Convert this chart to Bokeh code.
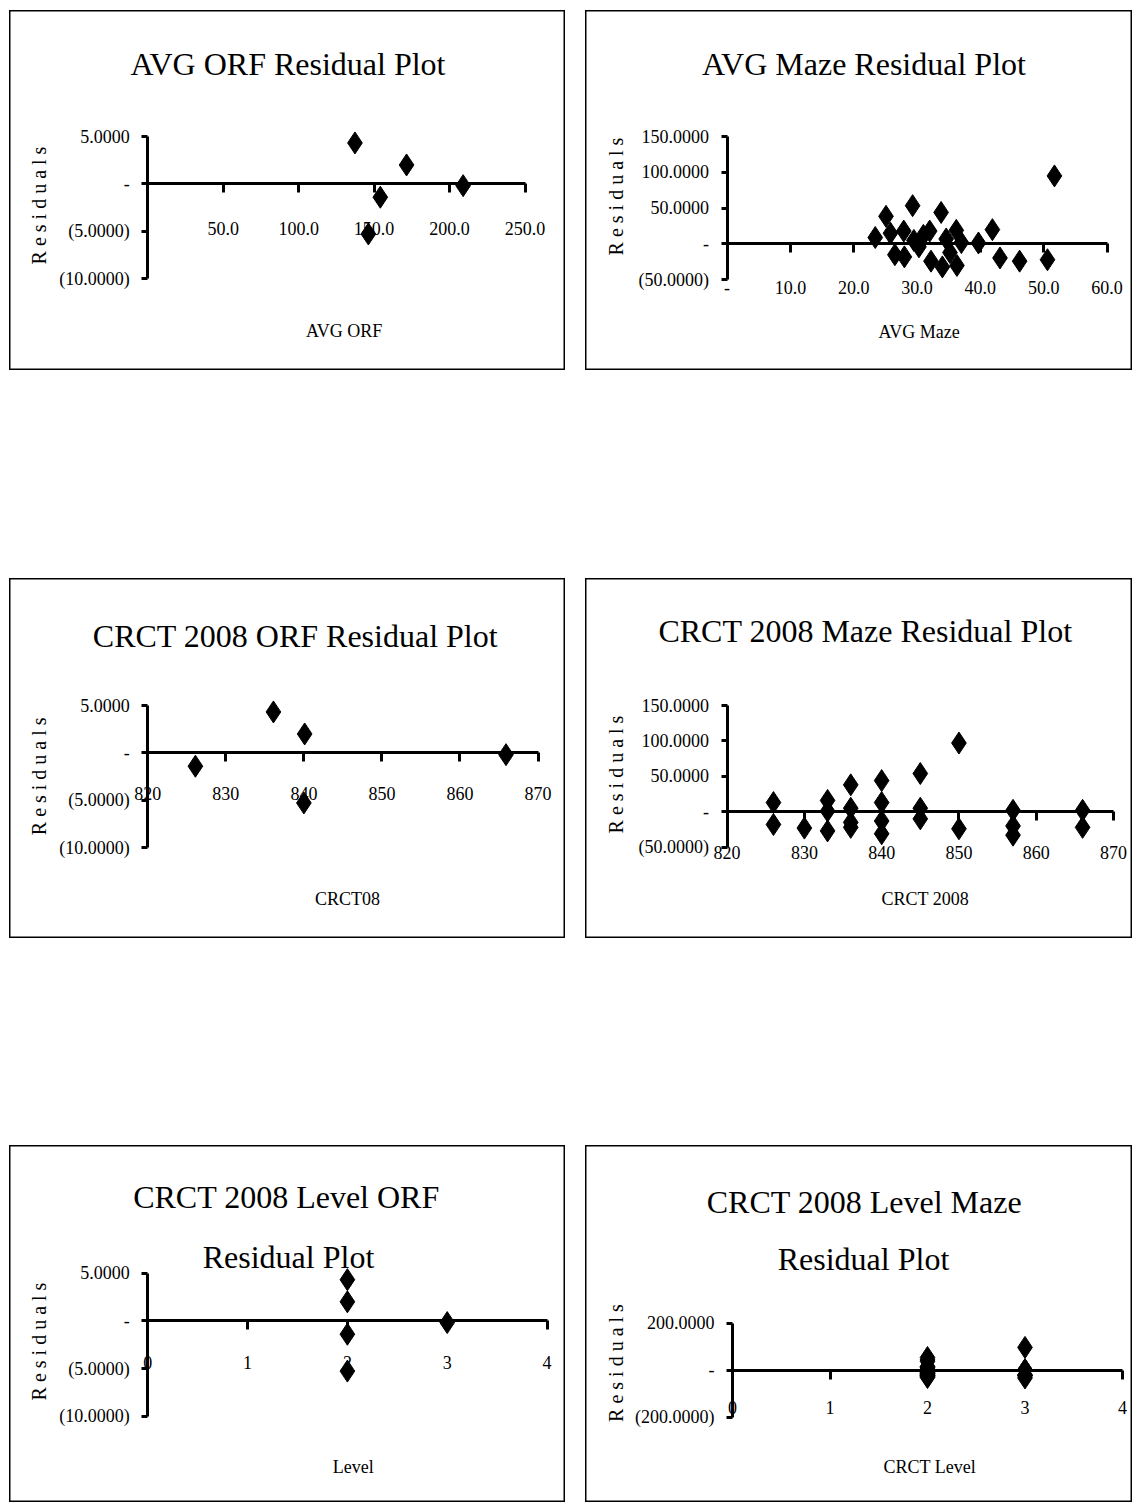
from math import pi
from bokeh.plotting import figure
from bokeh.models import Range1d, LinearAxis, FixedTicker, Label, Spacer
from bokeh.layouts import column, row
from bokeh.embed import file_html
from bokeh.resources import INLINE

# ---------------- data ----------------
# ORF residuals (5 students)
orf_avg = [137.3, 146.2, 154.1, 171.5, 209.0]
orf_avg_resid = [4.32, -5.27, -1.40, 2.00, -0.18]
orf_crct = [836.1, 840.0, 826.1, 840.1, 865.9]
orf_crct_resid = [4.32, -5.27, -1.40, 2.00, -0.18]
orf_level = [2, 2, 2, 2, 3]
orf_level_resid = [4.32, -5.27, -1.40, 2.00, -0.18]

# Maze residuals
maze_avg = [23.4, 25.1, 25.8, 26.5, 27.9, 28.0, 29.3, 29.5, 30.3, 31.0, 32.0, 32.2, 33.8,
            34.0, 34.6, 35.2, 36.2, 36.3, 37.0, 39.7, 41.9, 43.1, 46.2, 50.6, 51.7]
maze_avg_resid = [9, 38.6, 15, -15, 18, -18, 53.5, 5, -4, 12, 18, -24, 44,
                  -32, 7, -12, 19, -30, 2, 1.4, 20, -19.5, -24, -22, 95]
maze_crct = [826, 826, 830, 833, 833, 833, 836, 836, 836, 836, 840, 840, 840, 840,
             845, 845, 845, 850, 850, 857, 857, 857, 866, 866]
maze_crct_resid = [13, -18, -23, 16, 1, -27, 38, 5, -15, -22, 44, 13, -13, -31,
                   54, 5, -10, 97, -24, 2, -20, -33, 2, -22]
maze_level = [2, 2, 2, 2, 2, 2, 2, 2, 2, 2, 2, 2, 2, 2, 2, 2, 2, 3, 3, 3, 3, 3, 3, 3]
maze_level_resid = [13, -18, -23, 16, 1, -27, 38, 5, -15, -22, 44, 13, -13, -31,
                    54, 5, -10, 97, -24, 2, -20, -33, 2, -22]

# ticks / tick labels
orf_y_ticks = [-10, -5, 0, 5]
orf_y_labels = ["(10.0000)", "(5.0000)", "-", "5.0000"]
maze_y_ticks = [-50, 0, 50, 100, 150]
maze_y_labels = ["(50.0000)", "-", "50.0000", "100.0000", "150.0000"]
lvl_maze_y_ticks = [-200, 0, 200]
lvl_maze_y_labels = ["(200.0000)", "-", "200.0000"]
avg_orf_x_ticks = [50, 100, 150, 200, 250]
avg_orf_x_labels = ["50.0", "100.0", "150.0", "200.0", "250.0"]
avg_maze_x_ticks = [0, 10, 20, 30, 40, 50, 60]
avg_maze_x_labels = ["-", "10.0", "20.0", "30.0", "40.0", "50.0", "60.0"]
crct_x_ticks = [820, 830, 840, 850, 860, 870]
crct_x_labels = ["820", "830", "840", "850", "860", "870"]
level_x_ticks = [0, 1, 2, 3, 4]
level_x_labels = ["0", "1", "2", "3", "4"]

FONT = "Liberation Serif"


def make_panel(W, H, xcal, ycal, xticks, xlabels, xbounds, yticks, ylabels, ybounds,
               xs, ys, titles, xtitle, xtitle_pos, ylabel_pos, xstandoff):
    (xv0, xp0), (xv1, xp1) = xcal
    kx = (xv1 - xv0) / (xp1 - xp0)
    x_start = xv0 - xp0 * kx
    x_end = xv0 + (W - xp0) * kx
    (yv0, yp0), (yv1, yp1) = ycal
    ky = (yv1 - yv0) / (yp1 - yp0)
    y_top = yv0 - yp0 * ky
    y_bot = yv0 + (H - yp0) * ky
    p = figure(width=W, height=H, x_range=Range1d(x_start, x_end),
               y_range=Range1d(y_bot, y_top), output_backend="svg",
               toolbar_location=None, min_border=0, x_axis_type=None,
               y_axis_type=None)
    p.outline_line_color = "black"
    p.outline_line_width = 2
    p.background_fill_color = "white"
    p.border_fill_color = "white"

    xa = LinearAxis(fixed_location=0, bounds=xbounds,
                    ticker=FixedTicker(ticks=xticks),
                    major_label_overrides=dict(zip(xticks, xlabels)))
    ya = LinearAxis(fixed_location=xbounds[0], bounds=ybounds,
                    ticker=FixedTicker(ticks=yticks),
                    major_label_overrides=dict(zip(yticks, ylabels)))
    for ax in (xa, ya):
        ax.axis_line_width = 3
        ax.axis_line_color = "black"
        ax.major_tick_line_width = 3
        ax.major_tick_line_color = "black"
        ax.minor_tick_line_color = None
        ax.major_tick_in = 0
        ax.major_label_text_font = FONT
        ax.major_label_text_font_size = "18px"
        ax.major_label_text_color = "black"
    xa.major_tick_out = 9
    ya.major_tick_out = 6
    xa.major_label_standoff = xstandoff
    ya.major_label_standoff = 12
    p.add_layout(xa, "below")
    p.add_layout(ya, "left")

    p.scatter(xs, ys, marker="diamond", size=22, fill_color="black",
              line_color="black")

    for text, cx, cy in titles:
        p.add_layout(Label(x=cx, y=H - cy, x_units="screen", y_units="screen",
                           text=text, text_align="center", text_baseline="middle",
                           text_font=FONT, text_font_size="32px",
                           text_color="black"))
    p.add_layout(Label(x=xtitle_pos[0], y=H - xtitle_pos[1], x_units="screen",
                       y_units="screen", text=xtitle, text_align="center",
                       text_baseline="middle", text_font=FONT,
                       text_font_size="18px", text_color="black"))
    p.add_layout(Label(x=ylabel_pos[0], y=H - ylabel_pos[1], x_units="screen",
                       y_units="screen", text="R e s i d u a l s", angle=pi / 2,
                       text_align="center", text_baseline="middle", text_font=FONT,
                       text_font_size="20px", text_color="black"))
    return p


WL, WR = 556, 547
H1, H3 = 360, 357

p1 = make_panel(WL, H1, ((0, 138.3), (250, 515.5)), ((5, 126), (-10, 268.3)),
                avg_orf_x_ticks, avg_orf_x_labels, (0, 250),
                orf_y_ticks, orf_y_labels, (-10, 5),
                orf_avg, orf_avg_resid, [("AVG ORF Residual Plot", 278.5, 53)],
                "AVG ORF", (334.6, 320), (29, 195), 29)
p2 = make_panel(WR, H1, ((0, 141.6), (60, 521.5)), ((150, 126), (-50, 269.3)),
                avg_maze_x_ticks, avg_maze_x_labels, (0, 60),
                maze_y_ticks, maze_y_labels, (-50, 150),
                maze_avg, maze_avg_resid, [("AVG Maze Residual Plot", 278.5, 53)],
                "AVG Maze", (333.6, 321.7), (30.7, 186), 28)
p3 = make_panel(WL, H1, ((820, 138.3), (870, 528.5)), ((5, 127), (-10, 269.3)),
                crct_x_ticks, crct_x_labels, (820, 870),
                orf_y_ticks, orf_y_labels, (-10, 5),
                orf_crct, orf_crct_resid, [("CRCT 2008 ORF Residual Plot", 286, 57)],
                "CRCT08", (338, 320), (29, 197.8), 25)
p4 = make_panel(WR, H1, ((820, 141.6), (870, 528)), ((150, 127), (-50, 268.7)),
                crct_x_ticks, crct_x_labels, (820, 870),
                maze_y_ticks, maze_y_labels, (-50, 150),
                maze_crct, maze_crct_resid, [("CRCT 2008 Maze Residual Plot", 280, 52)],
                "CRCT 2008", (339.8, 320.3), (30.7, 196), 25)
p5 = make_panel(WL, H3, ((0, 138.3), (4, 537.5)), ((5, 127.7), (-10, 270.7)),
                level_x_ticks, level_x_labels, (0, 4),
                orf_y_ticks, orf_y_labels, (-10, 5),
                orf_level, orf_level_resid,
                [("CRCT 2008 Level ORF", 277, 51.7), ("Residual Plot", 279, 111.7)],
                "Level", (343.7, 321.7), (29, 196), 26)
p6 = make_panel(WR, H3, ((0, 147), (4, 537)), ((200, 177.7), (-200, 271.7)),
                level_x_ticks, level_x_labels, (0, 4),
                lvl_maze_y_ticks, lvl_maze_y_labels, (-200, 200),
                maze_level, maze_level_resid,
                [("CRCT 2008 Level Maze", 279, 56.7), ("Residual Plot", 278, 113)],
                "CRCT Level", (344.3, 321.7), (30.7, 217.5), 22)

layout = column(
    Spacer(height=10),
    row(Spacer(width=9), p1, Spacer(width=20), p2),
    Spacer(height=208),
    row(Spacer(width=9), p3, Spacer(width=20), p4),
    Spacer(height=207),
    row(Spacer(width=9), p5, Spacer(width=20), p6),
)

open("out.html", "w").write(file_html(layout, INLINE))
